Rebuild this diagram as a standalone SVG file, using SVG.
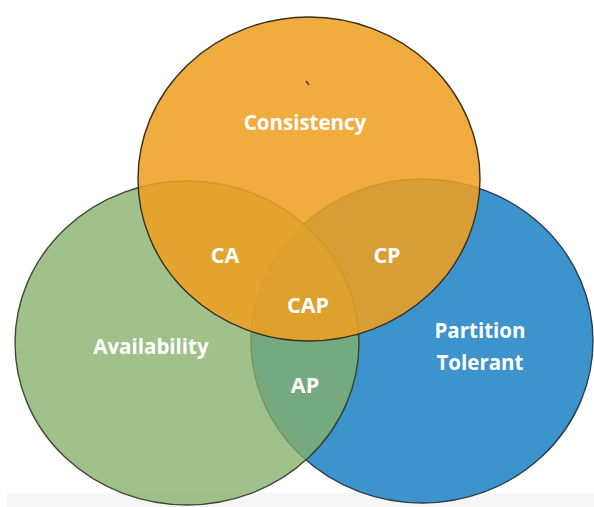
<svg xmlns="http://www.w3.org/2000/svg" width="594" height="507" viewBox="0 0 594 507">
<style>
.circ{stroke-width:1.4}
.lbl{font-family:"Open Sans",Lato,"Liberation Sans",sans-serif;font-weight:bold;fill:#ffffff;text-anchor:middle}
</style>
<rect x="0" y="0" width="594" height="507" fill="#ffffff"/>
<rect x="7" y="493" width="587" height="14" fill="#f6f6f6"/>
<g id="partition">
<ellipse class="circ" cx="422" cy="341" rx="171" ry="162" fill="#3d94cd" stroke="#2c3e50"/>
</g>
<g id="availability">
<ellipse class="circ" cx="187" cy="343" rx="172" ry="162" fill="#85b069" fill-opacity="0.78" stroke="#2f3a28" stroke-opacity="0.9"/>
</g>
<g id="consistency">
<ellipse class="circ" cx="309" cy="179" rx="171" ry="162" fill="#eea021" fill-opacity="0.87" stroke="#3a2f1e"/>
<path d="M306,81 L309,85" stroke="#5a4020" stroke-width="1.5"/>
</g>
<g id="labels">
<text class="lbl" x="305" y="130" font-size="20.5">Consistency</text>
<text class="lbl" x="151" y="354" font-size="20.5">Availability</text>
<text class="lbl" x="480" y="338" font-size="20.5">Partition</text>
<text class="lbl" x="480" y="370" font-size="20.5">Tolerant</text>
<text class="lbl" x="225" y="263" font-size="21.5">CA</text>
<text class="lbl" x="387" y="263" font-size="21.5">CP</text>
<text class="lbl" x="308" y="313" font-size="21.5">CAP</text>
<text class="lbl" x="305" y="393" font-size="21.5">AP</text>
</g>
<g id="connectors"></g>
</svg>
